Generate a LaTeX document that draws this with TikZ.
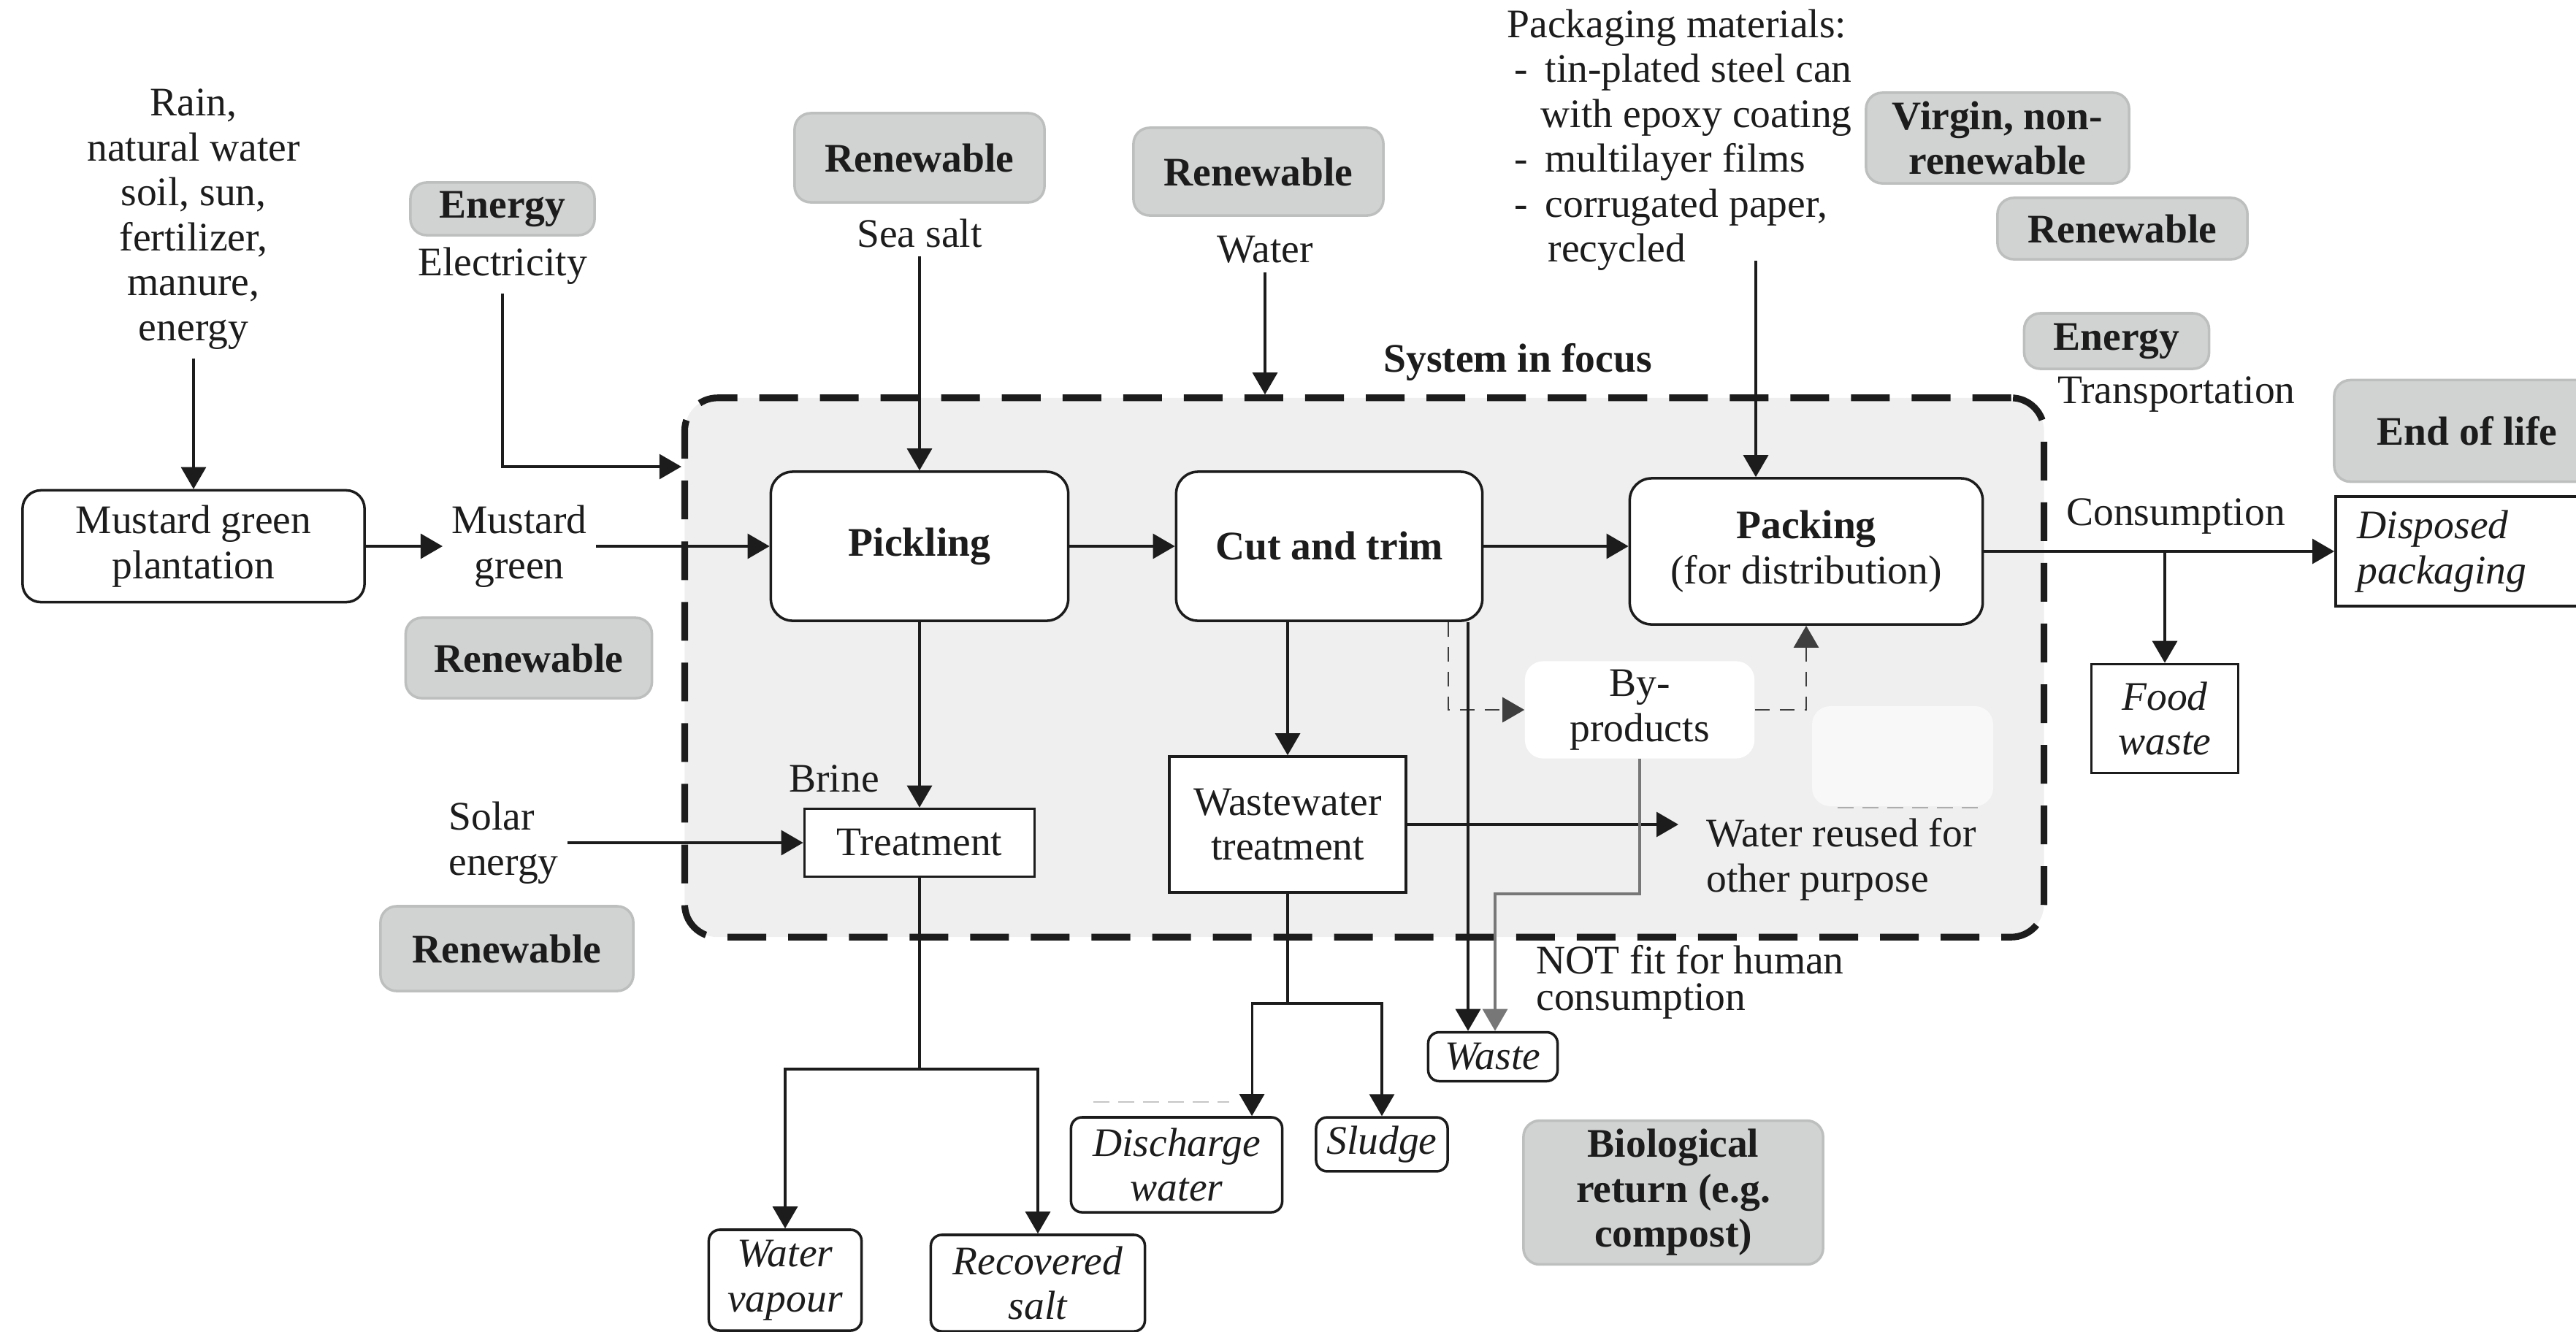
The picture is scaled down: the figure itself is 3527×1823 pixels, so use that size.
\documentclass[tikz,border=0pt]{standalone}
\usepackage{fontspec}
\setmainfont{Liberation Serif}
\usetikzlibrary{arrows.meta}

\definecolor{ink}{HTML}{1C1C1C}
\definecolor{tagfill}{HTML}{D1D3D2}
\definecolor{tagline}{HTML}{BDBFBE}
\definecolor{focusfill}{HTML}{EFEFEF}
\definecolor{linkgray}{HTML}{777777}

\newcommand{\figfont}{\fontsize{15.8}{17.5}\selectfont}

\tikzset{
    flow/.style={line width=0.9pt, draw=ink, -{Triangle[length=0.3cm,width=0.34cm]}},
    link/.style={line width=0.9pt, draw=ink},
    byflow/.style={line width=0.8pt, draw=ink!85, dash pattern=on 0.2cm off 0.14cm, -{Triangle[length=0.3cm,width=0.34cm]}},
    proc/.style={draw=ink, line width=1pt, fill=white, rounded corners=0.3cm, align=center},
    tag/.style={draw=tagline, line width=1pt, fill=tagfill, rounded corners=0.22cm, font=\figfont\bfseries, align=center},
    unit/.style={draw=ink, line width=1pt, fill=white, align=center},
    outbox/.style={draw=ink, line width=1pt, fill=white, rounded corners=0.15cm, font=\figfont\itshape, align=center},
}

\begin{document}
\begin{tikzpicture}
    [
        x=0.01cm,
        y=-0.01cm,
        font=\figfont,
        text=ink,
    ]
    \useasboundingbox (0,0) rectangle (3527,1823);

    \node [draw=ink, line width=2.6pt, dash pattern=on 0.53cm off 0.3cm, fill=focusfill,
        rounded corners=0.45cm, minimum width=18.6cm, minimum height=7.38cm] (sys) at (1868,914) {};
    \fill [white!55!focusfill, rounded corners=0.25cm] (2481,967) rectangle (2729,1104);
    \draw [linkgray!60, line width=0.8pt, dash pattern=on 0.22cm off 0.12cm] (2516,1106) -- (2711,1106);
    \draw [gray!45, line width=0.8pt, dash pattern=on 0.22cm off 0.12cm] (1497,1509) -- (1683,1509);

    \foreach \name/\x/\y/\w/\h in
    {renA/724/901/3.37/1.1, renB/1259/216/3.42/1.22, renC/1723/235/3.42/1.2,
     renD/2906/313/3.42/0.84, renE/694/1299/3.46/1.16}
    {
        \node [tag, minimum width=\w cm, minimum height=\h cm] (\name) at (\x,\y) {Renewable};
    }
    \node [tag, minimum width=2.52cm, minimum height=0.72cm] (enA) at (688,286) {Energy};
    \node [tag, minimum width=2.53cm, minimum height=0.76cm] (enB) at (2898,467) {Energy};
    \node [tag, minimum width=3.6cm, minimum height=1.17cm] (virgin) at (2735,189) {Virgin, non-\\renewable};
    \node [tag, minimum width=3.64cm, minimum height=1.39cm] (eol) at (3378,590) {End of life};
    \node [tag, minimum width=4.1cm, minimum height=1.95cm] (bio) at (2291,1633) {Biological\\return (e.g.\\compost)};

    \node [align=center] (rain) at (265,300) {Rain,\\natural water\\soil, sun,\\fertilizer,\\manure,\\energy};
    \node [proc, rounded corners=0.25cm, minimum width=4.68cm, minimum height=1.53cm] (plant) at (265,748) {Mustard green\\plantation};
    \node [align=center] (mg) at (711,748) {Mustard\\green};
    \node (elec) at (688,364) {Electricity};
    \node (salt) at (1259,319) {Sea salt};
    \node (water) at (1732,342) {Water};
    \node [font=\figfont\bfseries] (focus) at (2078,496) {System in focus};
    \node [anchor=north west, align=left, inner sep=0pt] (pkmat) at (2063,12)
        {Packaging materials:\\
        \hspace*{0.1cm}\makebox[0.42cm][l]{-}tin-plated steel can\\
        \hspace*{0.46cm}with epoxy coating\\
        \hspace*{0.1cm}\makebox[0.42cm][l]{-}multilayer films\\
        \hspace*{0.1cm}\makebox[0.42cm][l]{-}corrugated paper,\\
        \hspace*{0.56cm}recycled};
    \coordinate (pkin) at (2404,357);
    \node (trans) at (2980,540) {Transportation};
    \node (cons) at (2979,707) {Consumption};

    \node [proc, minimum width=4.07cm, minimum height=2.04cm] (pick) at (1259,748) {\textbf{Pickling}};
    \node [proc, minimum width=4.19cm, minimum height=2.04cm] (cut) at (1820,748) {\textbf{Cut and trim}};
    \node [proc, minimum width=4.83cm, minimum height=2cm] (packing) at (2473,755) {\textbf{Packing}\\(for distribution)};
    \node [unit, font=\figfont\itshape, anchor=west, text width=3.04cm, inner xsep=0.3cm, align=left,
        minimum height=1.5cm] (disp) at (3196,755) {Disposed\\packaging};
    \node [unit, font=\figfont\itshape, minimum width=2.01cm, minimum height=1.49cm] (food) at (2964,984) {Food\\waste};
    \node [fill=white, rounded corners=0.25cm, minimum width=3.14cm, minimum height=1.25cm, align=center] (byp) at (2245,972) {By-\\products};

    \node (brine) at (1142,1066) {Brine};
    \node [unit, minimum width=3.15cm, minimum height=0.93cm] (treat) at (1259,1154) {Treatment};
    \node [unit, minimum width=3.24cm, minimum height=1.86cm] (ww) at (1763,1129) {Wastewater\\treatment};
    \node [anchor=west, align=left, inner xsep=0.38cm] (reuse) at (2298,1177) {Water reused for\\other purpose};
    \node [anchor=west, align=left] (solar) at (602,1154) {Solar\\energy};
    \node [anchor=west, align=left, font=\fontsize{15.8}{14.2}\selectfont] (unfit) at (2091,1345) {NOT fit for human\\consumption};

    \node [outbox, minimum width=1.77cm, minimum height=0.67cm] (waste) at (2044,1447) {Waste};
    \node [outbox, minimum width=2.89cm, minimum height=1.3cm] (dis) at (1611,1595) {Discharge\\water};
    \node [outbox, minimum width=1.8cm, minimum height=0.64cm] (sludge) at (1892,1567) {Sludge};
    \node [outbox, minimum width=2.09cm, minimum height=1.38cm] (vap) at (1075,1753) {Water\\vapour};
    \node [outbox, minimum width=2.93cm, minimum height=1.32cm] (rsalt) at (1421,1757) {Recovered\\salt};

    \draw [flow] (rain) -- (plant);
    \draw [flow] (plant) -- (mg);
    \draw [flow] (mg) -- (pick);
    \draw [flow] (elec) |- (sys.west |- 0,639);
    \draw [flow] (salt) -- (pick);
    \draw [flow] (water) -- (water |- sys.north);
    \draw [flow] (pick) -- (cut);
    \draw [flow] (cut.east) -- (cut.east -| packing.west);
    \draw [flow] (pkin) -- (pkin |- packing.north);
    \draw [flow] (packing) -- (disp);
    \draw [flow] (food.north |- packing.east) -- (food);

    \draw [flow] (pick) -- (treat);
    \draw [flow] (solar) -- (treat);
    \draw [flow] (ww.north |- cut.south) -- (ww);
    \draw [flow] (ww.east) -- (ww.east -| reuse.west);
    \draw [byflow] (cut.south -| 1983,0) |- (byp);
    \draw [byflow] (byp) -| (packing);
    \draw [flow] (cut.south -| 2010,0) -- (waste.north -| 2010,0);
    \coordinate (bend) at (2047,1224);
    \draw [flow, draw=linkgray] (byp.south) |- (bend) -- (waste.north -| bend);

    \coordinate (tsplit) at (treat.south |- 0,1464);
    \draw [link] (treat) -- (tsplit);
    \draw [flow] (tsplit) -| (vap);
    \draw [flow] (tsplit) -| (rsalt);
    \coordinate (wsplit) at (ww.south |- 0,1374);
    \draw [link] (ww) -- (wsplit);
    \draw [flow] (wsplit) -| (sludge);
    \draw [flow] (wsplit) -| ([xshift=1.03cm]dis.north);
\end{tikzpicture}
\end{document}
